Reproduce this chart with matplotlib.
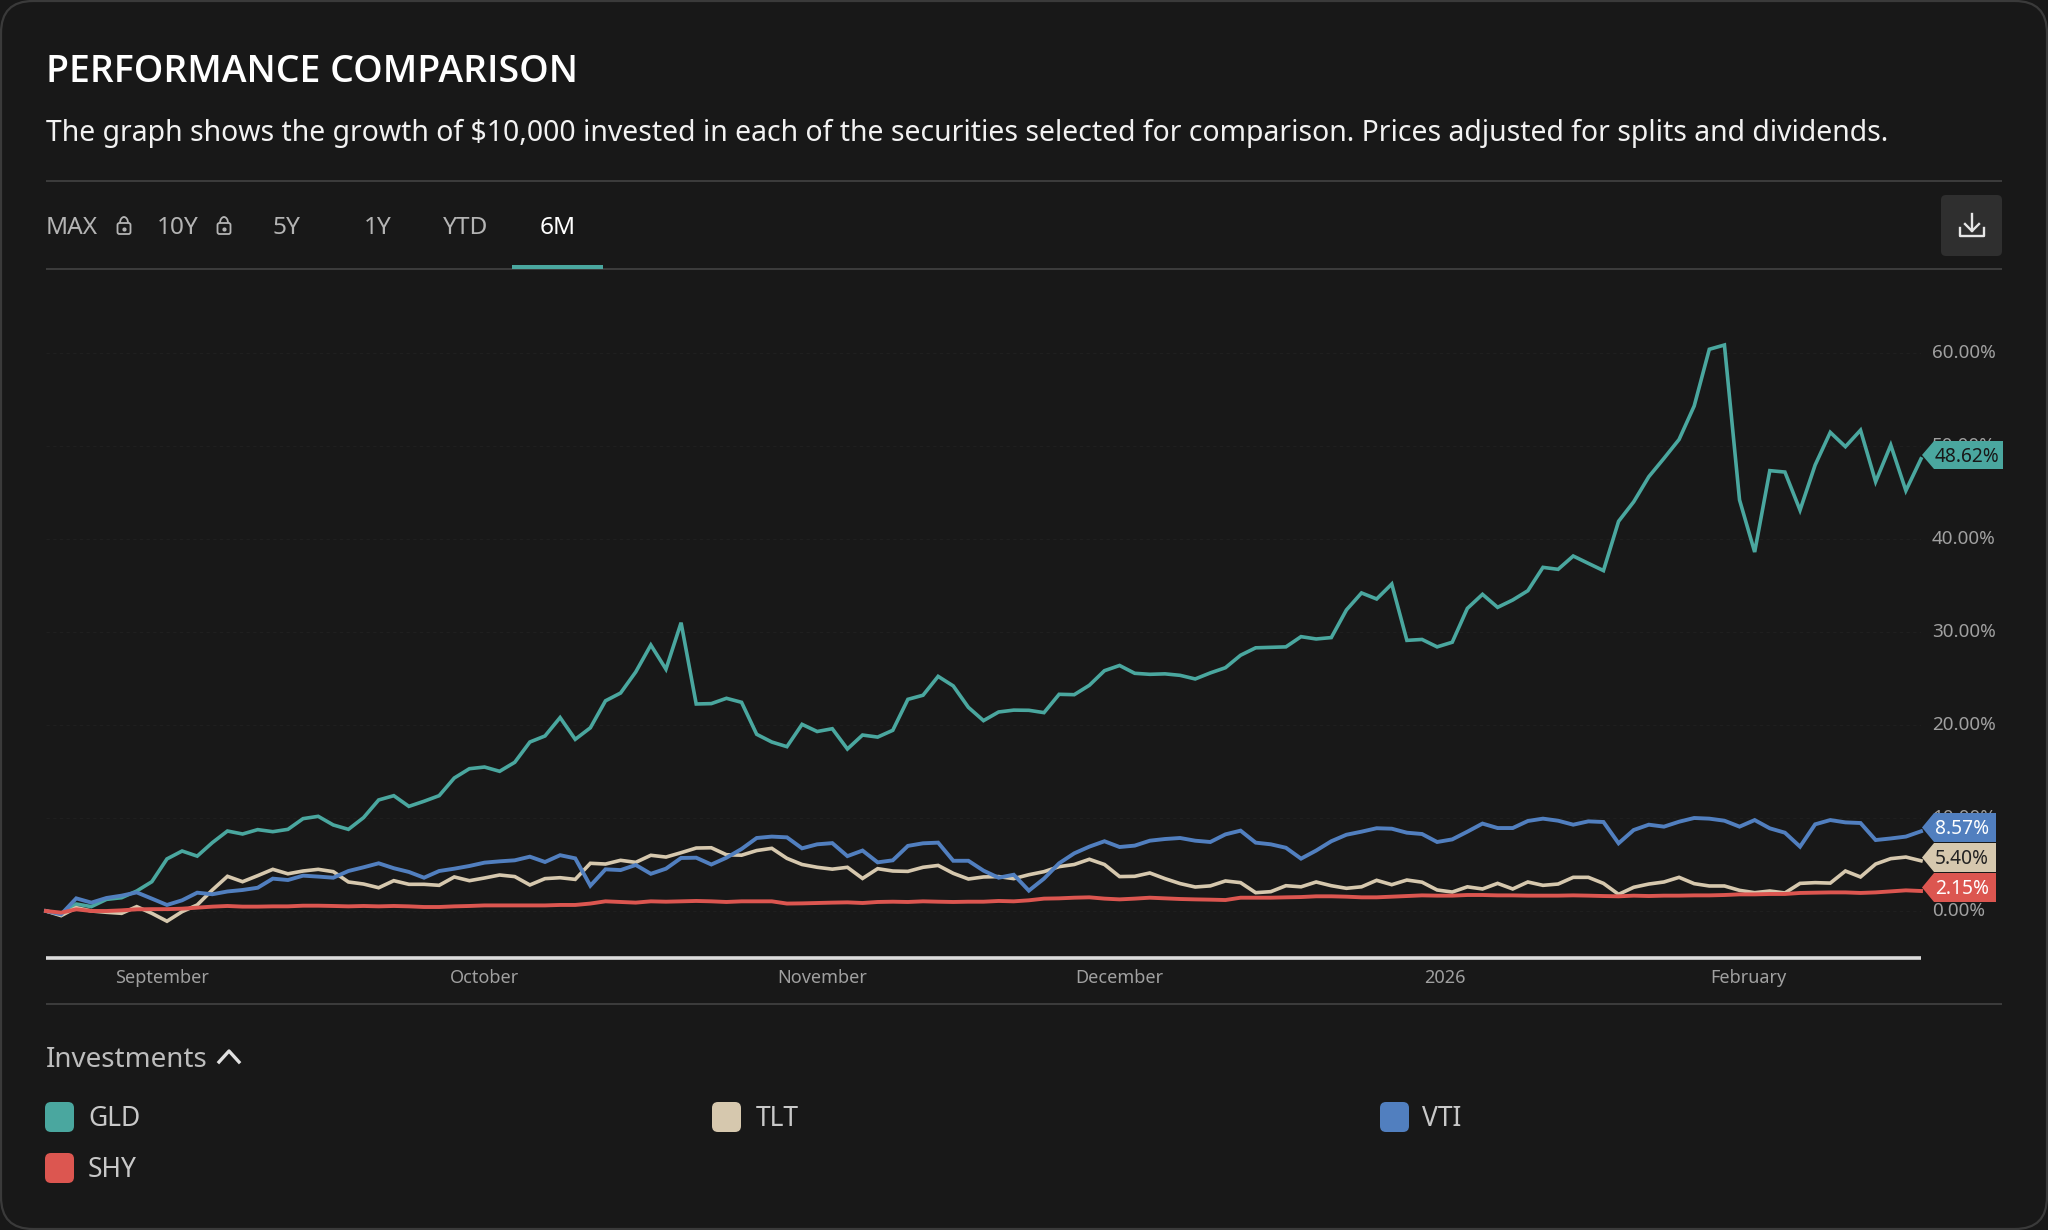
import numpy as np
import matplotlib
matplotlib.use("Agg")
import matplotlib.pyplot as plt
from matplotlib.patches import FancyBboxPatch, Polygon, Rectangle, Arc
from matplotlib.transforms import ScaledTranslation

plt.rcParams['font.family'] = ['Noto Sans', 'DejaVu Sans']

GLD = [0,-0.4,0.75,0.47,1.25,1.43,2.15,3.15,5.6,6.45,5.9,7.35,8.6,8.28,8.75,8.53,8.78,9.93,10.18,9.25,8.78,10.04,11.94,12.4,11.25,11.8,12.4,14.3,15.3,15.48,15.02,15.99,18.17,18.82,20.8,18.46,19.7,22.6,23.44,25.7,28.6,26.0,31.0,22.26,22.3,22.87,22.44,19.0,18.17,17.67,20.07,19.3,19.6,17.42,18.92,18.7,19.43,22.76,23.2,25.23,24.2,21.9,20.47,21.4,21.6,21.58,21.33,23.3,23.26,24.27,25.84,26.4,25.56,25.45,25.5,25.34,24.95,25.6,26.16,27.5,28.3,28.35,28.4,29.5,29.25,29.4,32.37,34.2,33.55,35.16,29.1,29.2,28.4,28.9,32.54,34.05,32.65,33.44,34.44,36.95,36.74,38.17,37.38,36.6,41.9,44.0,46.7,48.67,50.7,54.3,60.4,60.86,44.2,38.6,47.35,47.2,43.1,47.96,51.47,49.93,51.7,46.16,50.1,45.2,48.62]
TLT = [0,-0.5,0.36,0,-0.14,-0.25,0.47,-0.25,-1.1,-0.07,0.65,2.26,3.73,3.15,3.8,4.48,4.0,4.3,4.48,4.23,3.12,2.9,2.5,3.26,2.87,2.87,2.76,3.66,3.26,3.55,3.87,3.7,2.8,
       3.48,3.58,3.4,5.13,5.05,5.45,5.23,5.99,5.8,6.27,6.77,6.8,6.05,6.0,6.5,6.74,5.66,5.0,4.7,4.5,4.7,3.5,4.55,4.3,4.26,4.7,4.9,4.05,3.44,3.66,3.7,
       3.48,3.9,4.23,4.77,5.0,5.56,5.0,3.7,3.73,4.09,3.48,2.95,2.58,2.7,3.23,3.05,1.97,2.08,2.72,2.6,3.12,2.72,2.44,2.6,3.3,2.83,3.33,3.1,2.26,2.04,2.6,2.37,2.97,
       2.37,3.12,2.76,2.9,3.62,3.62,2.97,1.79,2.55,2.9,3.12,3.62,2.94,2.69,2.69,2.22,1.97,2.15,1.94,2.97,3.05,3.0,4.3,3.66,5.05,5.63,5.8,5.4]
VTI = [0,-0.36,1.36,0.9,1.4,1.65,2.0,1.33,0.65,1.15,1.97,1.8,2.1,2.26,2.5,3.48,3.33,3.8,3.7,3.58,4.3,4.7,5.13,4.6,4.2,3.58,4.3,4.55,4.84,5.2,5.34,5.45,5.84,
       5.27,6.0,5.66,2.72,4.48,4.4,4.95,4.0,4.55,5.7,5.73,5.0,5.73,6.67,7.85,8.0,7.92,6.74,7.17,7.3,5.9,6.5,5.23,5.45,7.0,7.28,7.35,5.4,5.4,4.34,3.58,
       3.9,2.19,3.48,5.13,6.2,6.92,7.5,6.88,7.03,7.56,7.74,7.85,7.56,7.42,8.24,8.64,7.35,7.17,6.8,5.63,6.5,7.5,8.2,8.53,8.9,8.85,8.42,8.28,7.42,7.7,8.53,9.4,8.92,
       8.92,9.68,9.93,9.71,9.28,9.64,9.57,7.28,8.71,9.28,9.07,9.6,10.0,9.93,9.71,9.07,9.78,8.89,8.42,6.92,9.32,9.78,9.53,9.46,7.63,7.8,8.0,8.57]
SHY = [0,-0.18,0.18,0,0,0.07,0.18,0.2,0.2,0.25,0.36,0.47,0.54,0.47,0.47,0.5,0.5,0.57,0.57,0.54,0.5,0.54,0.5,0.54,0.5,0.43,0.43,0.5,0.54,0.6,0.6,0.6,0.6,
       0.6,0.65,0.65,0.8,1.04,0.97,0.9,1.04,1.0,1.04,1.08,1.04,0.97,1.04,1.04,1.04,0.8,0.82,0.86,0.9,0.93,0.86,0.97,1.0,0.97,1.04,1.0,0.97,1.0,1.0,1.08,
       1.04,1.15,1.33,1.36,1.43,1.47,1.33,1.25,1.33,1.43,1.36,1.29,1.25,1.22,1.18,1.43,1.43,1.43,1.47,1.5,1.58,1.58,1.54,1.47,1.47,1.54,1.61,1.68,1.65,1.65,1.72,1.72,1.68,
       1.68,1.65,1.65,1.65,1.68,1.65,1.61,1.58,1.65,1.61,1.65,1.65,1.68,1.68,1.72,1.79,1.79,1.83,1.83,1.94,1.97,2.0,2.0,1.94,2.0,2.11,2.22,2.15]
assert len(GLD) == len(TLT) == len(VTI) == len(SHY) == 125

names = ['GLD', 'TLT', 'VTI', 'SHY']
series = [GLD, TLT, VTI, SHY]
colors = ['#4aa79f', '#d6c8ae', '#517fbf', '#dc5650']
end_labels = ['48.62%', '5.40%', '8.57%', '2.15%']
y_ticks = [0, 10, 20, 30, 40, 50, 60]
x_tick_pos = [7.7, 29.0, 51.3, 71.0, 92.5, 112.6]
x_tick_labels = ['September', 'October', 'November', 'December', '2026', 'February']
tabs = ['MAX', '10Y', '5Y', '1Y', 'YTD', '6M']

BG = '#181818'
W, H = 2048, 1230
fig = plt.figure(figsize=(W/100, H/100), dpi=100, facecolor=BG)

# chart axes: plot area in pixels x 46..1921, y 300..958
L, R, T, B = 46, 1921, 300, 958
ax = fig.add_axes([L/W, 1-B/H, (R-L)/W, (B-T)/H], facecolor='none', zorder=1)
ax.set_xlim(0, 124)
ax.set_ylim((911-B)/9.3, (911-T)/9.3)
for s in ['top', 'left', 'right']:
    ax.spines[s].set_visible(False)
ax.spines['bottom'].set_color('#dcdcdc')
ax.spines['bottom'].set_linewidth(2.6)
ax.spines['bottom'].set_capstyle('butt')
ax.yaxis.tick_right()
ax.set_yticks(y_ticks)
ax.set_yticklabels([f'{v:.2f}%' for v in y_ticks])
ax.set_xticks(x_tick_pos)
ax.set_xticklabels(x_tick_labels)
ax.tick_params(axis='both', length=0, labelcolor='#a0a0a0')
ax.tick_params(axis='y', pad=8, labelsize=13.6)
ax.tick_params(axis='x', pad=8, labelsize=13)
shift = ScaledTranslation(0, 2/100, fig.dpi_scale_trans)
for lab in ax.get_yticklabels():
    lab.set_transform(lab.get_transform() + shift)
for v in y_ticks:
    ax.axhline(v, color='#1f1f1f', lw=0.8, ls=(0, (3, 3)), zorder=0)
x = np.arange(125)
for s, c, lw in zip(series, colors, [2.6, 2.6, 2.8, 2.8]):
    ax.plot(x, s, color=c, lw=lw, solid_joinstyle='miter', clip_on=False)

# overlay in pixel coordinates
ov = fig.add_axes([0, 0, 1, 1], facecolor='none', zorder=2)
ov.set_xlim(0, W)
ov.set_ylim(H, 0)
ov.axis('off')

ov.add_patch(FancyBboxPatch((1, 1), W-2, H-2, boxstyle='round,pad=0,rounding_size=32',
                            fc='none', ec='#3a3a3a', lw=1.6))
ov.text(46, 72, 'PERFORMANCE COMPARISON', color='white', fontsize=27,
        family=['Open Sans', 'DejaVu Sans'], fontweight='semibold', va='center')
ov.text(46, 133, 'The graph shows the growth of $10,000 invested in each of the securities selected for comparison. '
        'Prices adjusted for splits and dividends.', color='#f2f2f2', fontsize=20.45, va='center', parse_math=False)

for y in [181, 269, 1004]:
    ov.plot([46, 2002], [y, y], color='#3d3d3d', lw=1.4, solid_capstyle='butt')
ov.add_patch(Rectangle((512, 265), 91, 3.5, fc=colors[0], ec='none', zorder=3))

tab_x = [46, 157, 273, 364, 443, 540]
for t, xx in zip(tabs, tab_x):
    ov.text(xx, 228, t, color='white' if t == '6M' else '#b4b4b4', fontsize=17.6, va='center')

def lock(cx):
    ov.add_patch(FancyBboxPatch((cx-6.5, 223), 13, 11, boxstyle='round,pad=0,rounding_size=2',
                                fc='none', ec='#b4b4b4', lw=1.3))
    ov.add_patch(Arc((cx, 223), 8, 12, theta1=180, theta2=360, ec='#b4b4b4', lw=1.3))
    ov.plot([cx], [228.5], marker='o', ms=2, color='#b4b4b4')
lock(124)
lock(224)

# download button
ov.add_patch(FancyBboxPatch((1941, 195), 61, 61, boxstyle='round,pad=0,rounding_size=5', fc='#2f2f2f', ec='none'))
ic = '#e6e6e6'
ov.plot([1972, 1972], [214, 231], color=ic, lw=1.7)
ov.plot([1965, 1972, 1979], [224, 231, 224], color=ic, lw=1.7)
ov.plot([1960, 1960, 1984, 1984], [228, 236, 236, 228], color=ic, lw=1.7)

# end labels
boxes = [(441, 469, 2003, '#181818'), (843, 872, 1996, '#222222'), (813, 842, 1996, 'white'), (873, 902, 1996, 'white')]
for (t, b, r, tc), c, lab in zip(boxes, colors, end_labels):
    m = (t+b)/2
    ov.add_patch(Polygon([(1922, m), (1934, t), (r, t), (r, b), (1934, b)], closed=True, fc=c, ec='none', zorder=4))
    ov.text(1935, m+1.5, lab, color=tc, fontsize=13.8, va='center', ha='left', zorder=5)

# legend
ov.text(46, 1060, 'Investments', color='#bdbdbd', fontsize=20, va='center')
ov.plot([219, 229, 239], [1062, 1051, 1062], color='#e0e0e0', lw=2.4)
legend_pos = [(45, 1102, 88), (712, 1102, 756), (1380, 1102, 1422), (45, 1153, 88)]
for (sx, sy, tx), n, c in zip(legend_pos, names, colors):
    ov.add_patch(FancyBboxPatch((sx, sy), 29, 30, boxstyle='round,pad=0,rounding_size=6', fc=c, ec='none'))
    ov.text(tx, sy+17, n, color='#c8c8c8', fontsize=19, va='center')

fig.savefig('out.png', dpi=100, facecolor=BG)
